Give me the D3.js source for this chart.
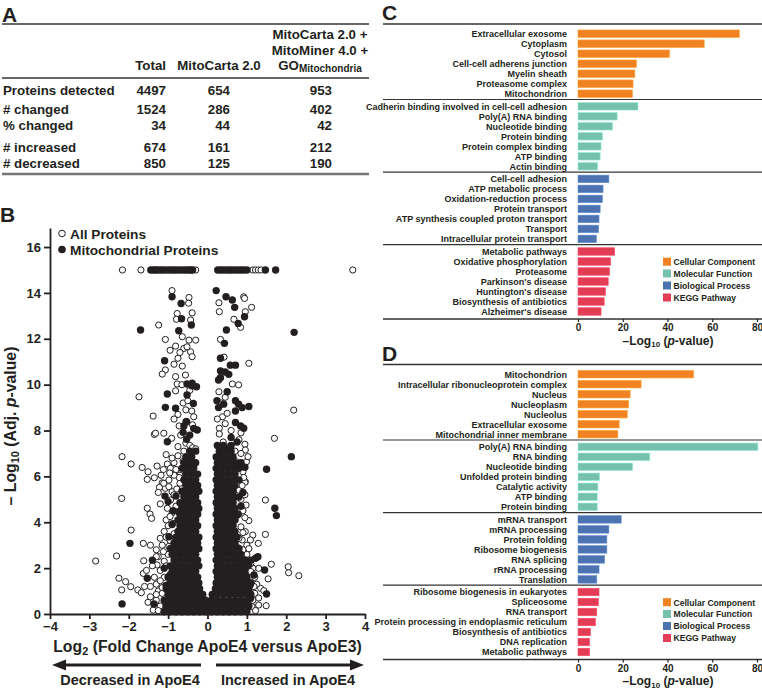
<!DOCTYPE html>
<html><head><meta charset="utf-8">
<script src="https://cdn.jsdelivr.net/npm/d3@7"></script>
<style>
body{margin:0;background:#fff}
svg{display:block}
text{font-family:"Liberation Sans",Arial,Helvetica,sans-serif;font-weight:bold;fill:#231f20}
</style>
</head><body>
<svg id="fig" width="762" height="690"></svg>
<script>
// ---------------- DATA ----------------
// Panel A table
const tableRowLabels = ["Proteins detected", "# changed", "% changed", "# increased", "# decreased"];
const tableTotal = [4497, 1524, 34, 674, 850];
const tableMitoCarta = [654, 286, 44, 161, 125];
const tableCombined = [953, 402, 42, 212, 190];

// Panel B volcano
const volcanoXTicks = [-4, -3, -2, -1, 0, 1, 2, 3, 4];
const volcanoYTicks = [0, 2, 4, 6, 8, 10, 12, 14, 16];
const capOpenX = [-2.16, -1.69, -1.31, -0.30, 1.15, 1.22, 1.29, 1.36, 3.69];   // capped at 15
const capMitoX = [-1.44, -1.37, -1.3, -1.22, -1.15, -1.08, -1.0, -0.92, -0.85, -0.78, -0.7, -0.62, -0.55, -0.48, -0.42, -0.38,
  0.26, 0.33, 0.4, 0.48, 0.55, 0.62, 0.7, 0.78, 0.85, 0.92, 1.0, 1.47, 1.73];
const capValue = 15;
const openPts = [
  [-0.90,14.1],[-0.47,13.8],[-0.48,13.55],[-0.77,13.1],[-0.39,13.13],[-0.79,12.85],[-0.43,12.82],[-1.24,12.6],[-1.07,11.97],
  [-0.81,11.68],[-0.47,11.94],[-0.30,11.94],[-0.60,11.58],[-0.43,11.43],[-0.39,11.22],[-0.75,11.15],[-0.85,10.89],[-0.64,10.81],
  [-1.07,10.64],[-1.15,10.46],[-0.81,10.35],[-0.56,10.42],[-0.77,10.03],[-0.81,9.73],[-1.74,9.47],[-1.38,8.63],[-0.62,9.2],
  [-0.55,8.9],[-0.75,8.7],[-0.4,8.85],[-0.95,11.5],[-0.7,11.4],[-0.65,10.0],[-0.45,9.75],[-1.35,7.83],[-0.91,7.66],[-0.68,7.8],
  [-0.55,7.45],[-0.45,7.35],[-0.38,7.25],[-0.3,7.2],[-0.6,7.1],[-0.75,7.3],[-0.55,8.4],[-0.35,8.6],[-0.72,8.2],[-0.64,12.09],
  [-0.52,11.65],[-0.38,8.25],[-0.85,8.5],[-0.5,9.3],[-1.32,7.88],[-1.11,7.88],
  [0.92,13.83],[0.29,13.57],[1.12,13.37],[0.30,13.18],[0.96,13.18],[0.67,12.85],[0.84,12.5],[0.33,11.97],[0.42,11.2],[1.05,10.93],
  [0.63,10.03],[0.79,9.99],[0.29,9.69],[0.45,9.45],[0.35,9.2],[2.19,8.89],[0.38,8.6],[0.45,8.3],[0.3,8.1],[0.6,8.0],[0.85,7.9],
  [0.95,7.4],[0.4,7.5],[1.70,7.66],[0.55,7.3],[0.94,13.76],[0.5,8.75],[0.3,7.85],[0.25,8.5],[0.8,7.6],
  [-2.17,6.86],[-1.94,6.54],[-1.66,6.39],[-1.51,6.2],[-1.28,6.45],[-1.02,6.54],[-0.85,6.6],[-1.53,5.87],[-1.35,5.94],[-1.15,5.72],
  [-0.98,5.84],[-1.07,5.48],[-2.18,5.04],[-0.94,4.97],[-1.53,4.61],[-1.46,4.36],[-1.42,4.17],[-1.94,3.66],[-1.63,3.08],[-2.31,2.53],
  [-2.84,2.31],[-1.62,2.32],[-1.28,2.14],[-2.25,1.56],[-2.08,1.41],[-1.95,1.19],[-1.63,1.77],[-1.77,1.05],[-1.68,0.93],[-2.18,1.05],
  [-1.51,0.51],[-1.38,0.17],[-1.22,5.52],[-1.11,5.7],[-0.94,6.35],[-0.98,5.55],[-0.9,5.33],[-1.02,4.61],[-1.05,4.1],[-1.0,3.85],
  [-1.1,3.6],[-1.2,3.3],[-1.15,3.0],[-1.3,2.8],[-1.25,2.5],[-1.1,2.3],[-1.4,2.1],[-1.2,1.9],[-1.35,1.6],[-1.3,1.3],[-1.45,1.2],
  [-1.25,1.0],[-1.45,0.75],[-1.3,0.6],[-1.2,0.35],[-1.0,0.3],[-0.85,5.2],[-0.8,6.3],[-0.9,6.8],[-0.7,5.7],[-0.8,4.7],[-0.9,4.4],
  [-1.25,5.3],[-1.2,4.8],[-1.45,3.0],[-1.3,2.5],[-1.55,1.9],[-1.6,1.2],[-1.1,1.6],[-1.15,0.9],[-0.95,3.2],[-0.85,3.5],[-1.0,2.6],
  [-0.7,6.05],[-0.62,6.65],[-0.75,6.9],[-1.05,6.95],[-0.5,6.2],
  [-0.95,4.25],[-0.88,3.95],[-1.05,3.35],[-0.98,2.95],[-1.12,2.72],[-1.05,2.1],[-1.2,1.45],[-1.15,1.15],[-1.3,0.85],[-1.25,0.15],
  [-0.78,5.45],[-0.72,5.95],[-0.85,6.05],[-0.96,6.15],[-1.18,6.05],[-1.12,6.3],
  [0.99,6.64],[0.96,5.77],[1.47,4.97],[1.05,4.07],[0.96,3.59],[1.15,3.44],[1.29,3.08],[1.47,3.47],[1.09,3.23],[0.88,3.23],[0.78,2.89],
  [1.62,2.17],[1.30,1.99],[2.05,2.06],[2.06,1.8],[2.32,1.67],[1.54,1.53],[1.35,1.12],[1.43,1.02],[1.30,0.39],[1.13,0.32],[1.01,0.25],
  [1.49,0.36],[0.96,7.15],[1.03,6.86],[0.73,6.64],[0.95,5.74],[0.9,6.2],[0.85,5.0],[0.9,4.5],[0.95,4.2],[0.85,3.8],[1.0,2.6],[1.15,2.0],
  [1.2,1.6],[1.25,1.3],[1.2,0.9],[1.15,0.6],[0.8,5.4],[0.75,4.3],[0.8,3.3],[0.9,2.8],[1.1,2.2],[0.85,7.0],[0.7,7.1],[1.05,0.8],[1.3,0.7],
  [0.92,5.95],[0.88,5.6],[0.95,5.2],[0.98,4.75],[0.9,3.55],[1.0,3.0],[1.05,2.85],[1.1,1.85],[1.18,1.2],[1.22,0.15]
];
const mitoPts = [
  [-0.90,13.83],[-0.67,13.54],[-0.66,12.87],[-0.41,12.6],[-1.70,12.38],[-0.73,12.35],[-1.09,11.04],[-0.52,10.03],[-0.39,10.06],
  [-0.28,9.91],[-0.52,9.55],[-1.02,9.59],[-0.36,9.18],[-1.07,9.01],[-0.81,8.97],[-0.53,8.38],[-0.35,8.09],[-1.02,7.51],[-0.62,7.92],
  [-0.53,7.62],[-0.26,8.02],[-0.6,8.2],[-0.45,7.8],[-0.4,9.95],
  [0.22,14.1],[0.47,13.83],[0.63,13.69],[0.69,13.37],[0.94,12.96],[0.78,12.67],[0.48,12.38],[2.20,12.28],[0.43,11.8],[0.33,11.15],
  [0.58,10.85],[0.71,10.85],[0.33,10.6],[0.45,10.55],[0.54,10.45],[0.33,10.3],[0.28,10.2],[0.5,9.69],[0.24,9.3],[0.41,9.15],[0.28,9.0],
  [0.71,9.3],[0.79,9.15],[0.88,9.0],[1.05,9.05],[0.71,8.85],[0.71,8.35],[0.84,8.2],[0.92,8.1],[0.6,7.7],[0.75,7.5],[0.5,7.2],
  [-1.08,5.14],[-0.8,5.14],[-0.87,4.5],[-0.73,4.46],[-1.97,3.08],[-0.98,3.37],[-0.94,2.86],[-1.4,2.35],[-1.53,1.56],[-2.17,0.44],
  [-1.36,0.44],[-1.1,2.0],[-0.95,1.7],[-1.05,1.25],[-0.9,3.9],[-1.0,4.9],
  [2.13,6.86],[1.50,6.31],[1.71,4.61],[1.75,4.29],[1.22,2.43],[1.28,2.5],[0.96,2.35],[1.05,2.14],[1.45,1.92],[1.18,1.7],[1.09,1.29],
  [1.50,0.87],[1.05,0.97],[1.09,0.68],[0.95,6.4],[0.9,5.3],[0.85,4.7],[0.9,2.0],[1.0,1.5]
];
// dense core of mitochondrial points: [y, x, x, ...]
const mitoCoreRows = [
  [0.1, -1.1,-0.95,-0.8,-0.65,-0.5,-0.35,-0.2,-0.05,0.1,0.25,0.4,0.55,0.7,0.85,1.0],
  [0.35, -1.05,-0.9,-0.75,-0.6,-0.45,-0.3,-0.15,0.0,0.15,0.3,0.45,0.6,0.75,0.9,1.05],
  [0.6, -1.1,-0.95,-0.8,-0.65,-0.5,-0.35,-0.2,-0.05,0.1,0.25,0.4,0.55,0.7,0.85,1.0],
  [0.85, -1.0,-0.85,-0.7,-0.55,-0.4,-0.25,-0.12,0.12,0.25,0.4,0.55,0.7,0.85,1.0,1.1],
  [1.1, -1.05,-0.9,-0.75,-0.6,-0.45,-0.3,-0.2,0.2,0.3,0.45,0.6,0.75,0.9,1.05],
  [1.35, -0.95,-0.8,-0.65,-0.5,-0.35,-0.22,0.22,0.35,0.5,0.65,0.8,0.95,1.1],
  [1.6, -1.0,-0.85,-0.7,-0.55,-0.4,-0.25,0.25,0.4,0.55,0.7,0.85,1.0],
  [1.85, -0.9,-0.75,-0.6,-0.45,-0.3,0.22,0.35,0.5,0.65,0.8,0.95],
  [2.1, -0.95,-0.8,-0.65,-0.5,-0.35,-0.22,0.25,0.4,0.55,0.7,0.85,1.0],
  [2.35, -0.85,-0.7,-0.55,-0.4,-0.25,0.22,0.35,0.5,0.65,0.8,0.95,1.1],
  [2.6, -0.9,-0.75,-0.6,-0.45,-0.3,0.25,0.4,0.55,0.7,0.85],
  [2.85, -0.8,-0.65,-0.5,-0.35,-0.22,0.22,0.35,0.5,0.65,0.8],
  [3.1, -0.85,-0.7,-0.55,-0.4,-0.25,0.25,0.4,0.55,0.7],
  [3.35, -0.8,-0.65,-0.5,-0.35,-0.22,0.22,0.35,0.5,0.65,0.75],
  [3.6, -0.75,-0.6,-0.45,-0.3,0.25,0.4,0.55,0.7],
  [3.85, -0.7,-0.55,-0.4,-0.25,0.22,0.35,0.5,0.65],
  [4.1, -0.75,-0.6,-0.45,-0.3,0.25,0.4,0.55,0.7],
  [4.35, -0.7,-0.55,-0.4,-0.25,0.22,0.35,0.5,0.65,0.78],
  [4.6, -0.65,-0.5,-0.35,-0.22,0.25,0.4,0.55,0.7],
  [4.85, -0.7,-0.55,-0.4,-0.25,0.22,0.35,0.5,0.65],
  [5.1, -0.6,-0.45,-0.3,0.25,0.4,0.55,0.7,0.8],
  [5.35, -0.65,-0.5,-0.35,-0.22,0.22,0.35,0.5,0.65],
  [5.6, -0.55,-0.4,-0.25,0.25,0.4,0.55,0.7],
  [5.85, -0.6,-0.45,-0.3,0.22,0.35,0.5,0.65,0.8],
  [6.1, -0.55,-0.4,-0.25,0.25,0.4,0.55,0.7],
  [6.35, -0.65,-0.5,-0.35,0.22,0.35,0.5,0.65,0.8],
  [6.6, -0.6,-0.45,-0.3,0.25,0.4,0.55,0.7,0.85],
  [6.85, -0.55,-0.4,0.22,0.35,0.5,0.65],
  [7.1, -0.45,-0.3,0.3,0.45,0.6],
  [7.35, 0.25,0.4,0.6]
];

// Panels C and D: GO / KEGG enrichment (-log10 p)
const goTicks = [0, 20, 40, 60, 80];
const categoryNames = ["Cellular Component", "Molecular Function", "Biological Process", "KEGG Pathway"];
const categoryColors = ["#f08224", "#76c0ae", "#4c72b0", "#e23d55"];

const cTermsCC = ["Extracellular exosome","Cytoplasm","Cytosol","Cell-cell adherens junction","Myelin sheath","Proteasome complex","Mitochondrion"];
const cValsCC = [72.1, 56.4, 40.9, 26.1, 25.4, 24.6, 24.3];
const cTermsMF = ["Cadherin binding involved in cell-cell adhesion","Poly(A) RNA binding","Nucleotide binding","Protein binding","Protein complex binding","ATP binding","Actin binding"];
const cValsMF = [26.8, 17.5, 15.4, 10.9, 10.3, 9.9, 8.8];
const cTermsBP = ["Cell-cell adhesion","ATP metabolic process","Oxidation-reduction process","Protein transport","ATP synthesis coupled proton transport","Transport","Intracellular protein transport"];
const cValsBP = [13.8, 11.2, 10.9, 9.9, 9.4, 9.2, 8.2];
const cTermsKEGG = ["Metabolic pathways","Oxidative phosphorylation","Proteasome","Parkinson's disease","Huntington's disease","Biosynthesis of antibiotics","Alzheimer's disease"];
const cValsKEGG = [16.4, 14.6, 14.1, 13.5, 12.3, 11.7, 10.3];

const dTermsCC = ["Mitochondrion","Intracellular ribonucleoprotein complex","Nucleus","Nucleoplasm","Nucleolus","Extracellular exosome","Mitochondrial inner membrane"];
const dValsCC = [51.7, 28.2, 23.3, 22.6, 22.0, 18.4, 17.8];
const dTermsMF = ["Poly(A) RNA binding","RNA binding","Nucleotide binding","Unfolded protein binding","Catalytic activity","ATP binding","Protein binding"];
const dValsMF = [80.4, 32.1, 24.4, 9.6, 8.9, 8.6, 8.6];
const dTermsBP = ["mRNA transport","mRNA processing","Protein folding","Ribosome biogenesis","RNA splicing","rRNA processing","Translation"];
const dValsBP = [19.3, 13.8, 12.9, 12.9, 11.9, 9.4, 8.4];
const dTermsKEGG = ["Ribosome biogenesis in eukaryotes","Spliceosome","RNA transport","Protein processing in endoplasmic reticulum","Biosynthesis of antibiotics","DNA replication","Metabolic pathways"];
const dValsKEGG = [9.4, 9.1, 8.4, 7.8, 5.6, 5.2, 5.2];

// ---------------- DRAW ----------------
const svg = d3.select("#fig");
const ink = "#231f20";

function panelLetter(t, x, y) {
  svg.append("text").attr("x", x).attr("y", y).attr("font-size", 21).text(t);
}

// ===== Panel A =====
panelLetter("A", 2, 21.5);
svg.append("line").attr("x1", 2).attr("x2", 369).attr("y1", 24).attr("y2", 24).attr("stroke", "#333").attr("stroke-width", 1.5);
svg.append("line").attr("x1", 2).attr("x2", 369).attr("y1", 78).attr("y2", 78).attr("stroke", "#333").attr("stroke-width", 1.5);
svg.append("line").attr("x1", 2).attr("x2", 369).attr("y1", 174).attr("y2", 174).attr("stroke", "#777").attr("stroke-width", 2.5);

const tFont = 13.3;
const hdr = svg.append("g").attr("font-size", tFont);
hdr.append("text").attr("x", 166).attr("y", 70).attr("text-anchor", "end").text("Total");
hdr.append("text").attr("x", 219).attr("y", 70).attr("text-anchor", "middle").text("MitoCarta 2.0");
hdr.append("text").attr("x", 320).attr("y", 39).attr("text-anchor", "middle").text("MitoCarta 2.0 +");
hdr.append("text").attr("x", 320).attr("y", 55).attr("text-anchor", "middle").text("MitoMiner 4.0 +");
const goT = hdr.append("text").attr("x", 320).attr("y", 70).attr("text-anchor", "middle");
goT.append("tspan").text("GO");
goT.append("tspan").attr("font-size", 10).attr("dy", 2).text("Mitochondria");

const rowBase = [95, 113.5, 130, 151.5, 167.5];
const rows = svg.append("g").attr("font-size", tFont);
tableRowLabels.forEach((lab, i) => {
  rows.append("text").attr("x", 3).attr("y", rowBase[i]).text(lab);
  rows.append("text").attr("x", 166).attr("y", rowBase[i]).attr("text-anchor", "end").text(tableTotal[i]);
  rows.append("text").attr("x", 230).attr("y", rowBase[i]).attr("text-anchor", "end").text(tableMitoCarta[i]);
  rows.append("text").attr("x", 332).attr("y", rowBase[i]).attr("text-anchor", "end").text(tableCombined[i]);
});

// ===== Panel B =====
panelLetter("B", 0, 222);
const vx = d3.scaleLinear().domain([-4, 4]).range([50, 365]);
const vy = d3.scaleLinear().domain([0, 16.83]).range([614, 228]);

const gOpen = svg.append("g");
const allOpen = capOpenX.map(x => [x, capValue]).concat(openPts);
gOpen.selectAll("circle").data(allOpen).join("circle")
  .attr("cx", d => vx(d[0])).attr("cy", d => vy(d[1])).attr("r", 3.1)
  .attr("fill", "#fff").attr("stroke", ink).attr("stroke-width", 1);

const corePts = [];
mitoCoreRows.forEach(r => { for (let k = 1; k < r.length; k++) corePts.push([r[k], r[0]]); });
const allMito = capMitoX.map(x => [x, capValue]).concat(mitoPts, corePts);
svg.append("g").selectAll("circle").data(allMito).join("circle")
  .attr("cx", d => vx(d[0])).attr("cy", d => vy(d[1])).attr("r", 3.7).attr("fill", ink);

const axY = svg.append("g").attr("transform", "translate(50,0)")
  .call(d3.axisLeft(vy).tickValues(volcanoYTicks).tickSize(6).tickPadding(3).tickSizeOuter(0));
const axX = svg.append("g").attr("transform", "translate(0,614)")
  .call(d3.axisBottom(vx).tickValues(volcanoXTicks).tickSize(5).tickPadding(3).tickSizeOuter(0));
[axY, axX].forEach(a => {
  a.selectAll("path,line").attr("stroke", ink).attr("stroke-width", 1.8);
  a.selectAll("text").attr("font-size", 13).attr("font-family", "Liberation Sans, Arial, sans-serif").attr("font-weight", "bold").attr("fill", ink);
});

// legend
svg.append("circle").attr("cx", 62).attr("cy", 233.5).attr("r", 3.3).attr("fill", "#fff").attr("stroke", ink).attr("stroke-width", 1);
svg.append("circle").attr("cx", 62).attr("cy", 249.5).attr("r", 3.8).attr("fill", ink);
svg.append("text").attr("x", 70).attr("y", 238.5).attr("font-size", 13.7).text("All Proteins");
svg.append("text").attr("x", 70).attr("y", 254.5).attr("font-size", 13.7).text("Mitochondrial Proteins");

// axis titles
const xt = svg.append("text").attr("x", 207.5).attr("y", 651.5).attr("text-anchor", "middle").attr("font-size", 15.8);
xt.append("tspan").text("Log");
xt.append("tspan").attr("font-size", 11).attr("dy", 3).text("2");
xt.append("tspan").attr("dy", -3).text(" (Fold Change ApoE4 versus ApoE3)");

const yt = svg.append("text").attr("transform", "translate(15.5,426) rotate(-90)").attr("text-anchor", "middle").attr("font-size", 15.8);
yt.append("tspan").text("– Log");
yt.append("tspan").attr("font-size", 11).attr("dy", 3).text("10");
yt.append("tspan").attr("dy", -3).text(" (Adj. ");
yt.append("tspan").attr("font-style", "italic").text("p");
yt.append("tspan").text("-value)");

// arrows
function arrow(xTail, xTip, y) {
  const dir = xTip > xTail ? 1 : -1;
  svg.append("line").attr("x1", xTail).attr("x2", xTip - dir * 10).attr("y1", y).attr("y2", y).attr("stroke", ink).attr("stroke-width", 3);
  svg.append("path").attr("d", `M${xTip},${y} L${xTip - dir * 14},${y - 5.5} L${xTip - dir * 14},${y + 5.5} Z`).attr("fill", ink);
}
arrow(201, 52, 665);
arrow(216, 364, 665);
svg.append("text").attr("x", 130).attr("y", 685).attr("text-anchor", "middle").attr("font-size", 14.5).text("Decreased in ApoE4");
svg.append("text").attr("x", 288).attr("y", 685).attr("text-anchor", "middle").attr("font-size", 14.5).text("Increased in ApoE4");

// ===== Panels C & D =====
const gx = d3.scaleLinear().domain([0, 80]).range([578, 757]);

function goPanel(letter, yOff, groups) {
  panelLetter(letter, 382, 20 + yOff);
  svg.append("line").attr("x1", 383).attr("x2", 762).attr("y1", 24 + yOff).attr("y2", 24 + yOff).attr("stroke", "#333").attr("stroke-width", 1.5);
  groups.forEach((g, gi) => {
    const y0 = 28.7 + gi * 72.6 + yOff;
    const band = d3.scaleBand().domain(g.terms).range([y0, y0 + 70]).paddingInner(0.25).paddingOuter(0.125);
    const gg = svg.append("g");
    gg.selectAll("rect").data(g.terms).join("rect")
      .attr("x", gx(0)).attr("y", t => band(t)).attr("height", band.bandwidth())
      .attr("width", (t, i) => gx(g.vals[i]) - gx(0))
      .attr("fill", categoryColors[gi]).attr("stroke", d3.color(categoryColors[gi]).brighter(0.6)).attr("stroke-width", 0.6);
    gg.selectAll("text").data(g.terms).join("text")
      .attr("x", 567).attr("y", t => band(t) + band.bandwidth() / 2 + 3.3)
      .attr("text-anchor", "end").attr("font-size", 9).text(t => t);
    if (gi < 3) {
      svg.append("line").attr("x1", 383).attr("x2", 762).attr("y1", y0 + 70.8).attr("y2", y0 + 70.8).attr("stroke", "#333").attr("stroke-width", 1.2);
    }
  });
  const bottom = 319 + yOff;
  svg.append("line").attr("x1", 383).attr("x2", 762).attr("y1", bottom).attr("y2", bottom).attr("stroke", "#333").attr("stroke-width", 1.5);
  const ax = svg.append("g").attr("transform", `translate(0,${bottom})`)
    .call(d3.axisBottom(gx).tickValues(goTicks).tickSize(3).tickPadding(2).tickSizeOuter(0));
  ax.select(".domain").remove();
  ax.selectAll("line").attr("stroke", ink).attr("stroke-width", 1.2);
  ax.selectAll("text").attr("font-size", 10).attr("font-family", "Liberation Sans, Arial, sans-serif").attr("font-weight", "bold").attr("fill", ink);
  const t = svg.append("text").attr("x", 668).attr("y", 344.5 + yOff).attr("text-anchor", "middle").attr("font-size", 12);
  t.append("tspan").text("–Log");
  t.append("tspan").attr("font-size", 8).attr("dy", 2.5).text("10");
  t.append("tspan").attr("dy", -2.5).text(" (");
  t.append("tspan").attr("font-style", "italic").text("p");
  t.append("tspan").text("-value)");
  // legend
  const ly = [261.7, 273.5, 285.5, 297.5];
  categoryNames.forEach((n, i) => {
    svg.append("rect").attr("x", 663).attr("y", ly[i] - 4 + yOff).attr("width", 8).attr("height", 8).attr("fill", categoryColors[i]);
    svg.append("text").attr("x", 673.5).attr("y", ly[i] + 3.3 + yOff).attr("font-size", 8.6).text(n);
  });
}

goPanel("C", 0, [
  {terms: cTermsCC, vals: cValsCC}, {terms: cTermsMF, vals: cValsMF},
  {terms: cTermsBP, vals: cValsBP}, {terms: cTermsKEGG, vals: cValsKEGG}
]);
goPanel("D", 340.5, [
  {terms: dTermsCC, vals: dValsCC}, {terms: dTermsMF, vals: dValsMF},
  {terms: dTermsBP, vals: dValsBP}, {terms: dTermsKEGG, vals: dValsKEGG}
]);
</script>
</body></html>
